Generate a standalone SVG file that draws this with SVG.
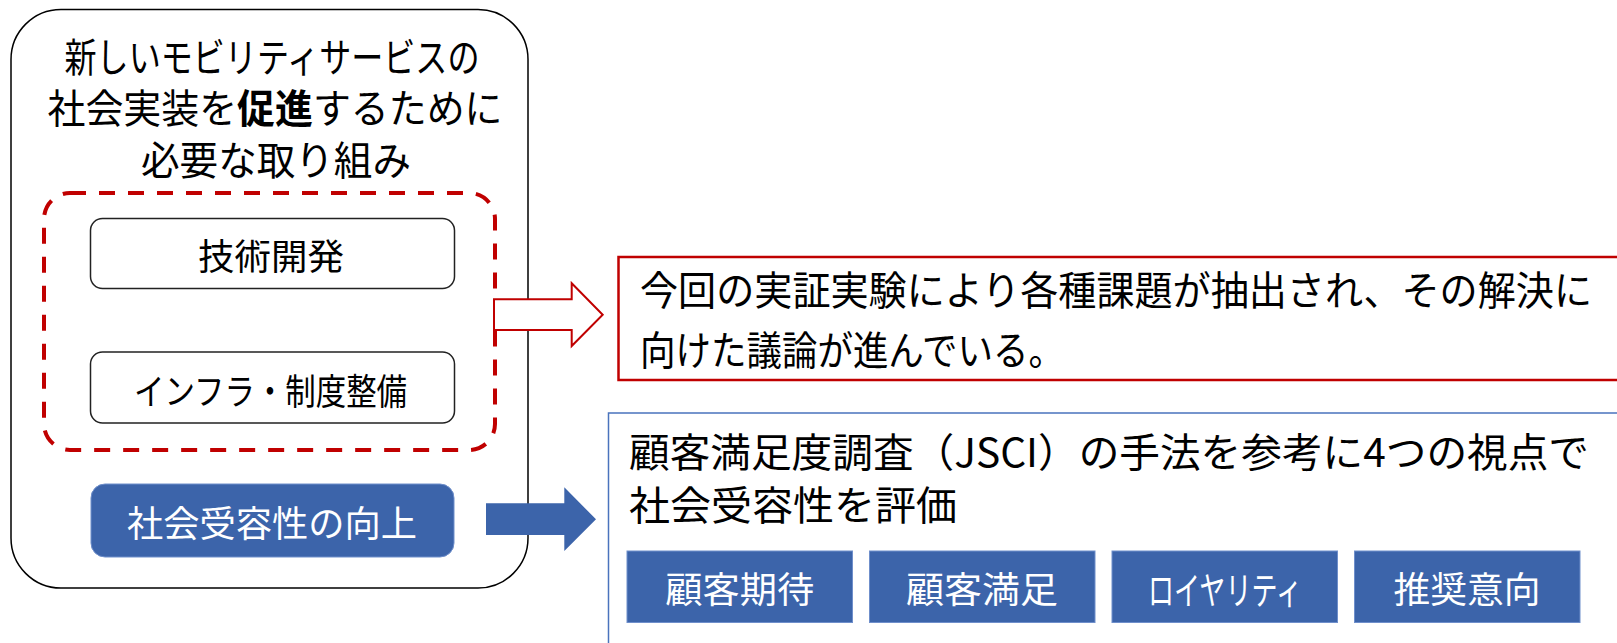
<svg xmlns="http://www.w3.org/2000/svg" width="1617" height="643" viewBox="0 0 1617 643">
<style>
text{font-family:"Noto Sans CJK JP","Noto Sans",sans-serif;dominant-baseline:central;fill:#000}
.c{text-anchor:middle}
.w{fill:#fff}
.blue{fill:#3C64AA;stroke:#6F8FCB;stroke-width:1}
.wbox{fill:#fff;stroke:#222;stroke-width:1.5}
</style>
<rect width="1617" height="643" fill="#fff"/>
<g id="outer">
<rect x="11" y="9.5" width="517" height="578.5" rx="50" fill="#fff" stroke="#000" stroke-width="1.5"/>
<text x="272" y="55" font-size="40" class="c" textLength="415" lengthAdjust="spacingAndGlyphs">新しいモビリティサービスの</text>
<text x="275" y="105.8" font-size="40" class="c" textLength="455" lengthAdjust="spacingAndGlyphs">社会実装を<tspan font-weight="bold">促進</tspan>するために</text>
<text x="276" y="157.5" font-size="40" class="c" textLength="270" lengthAdjust="spacingAndGlyphs">必要な取り組み</text>
</g>
<g id="dashed-group">
<rect x="44" y="193" width="451" height="257" rx="26" fill="none" stroke="#C00000" stroke-width="4" stroke-dasharray="16 13"/>
</g>
<g id="tech">
<rect class="wbox" x="90.5" y="218.5" width="364" height="70" rx="12"/>
<text x="271" y="253.5" font-size="36" class="c" textLength="146" lengthAdjust="spacingAndGlyphs">技術開発</text>
</g>
<g id="infra">
<rect class="wbox" x="90.5" y="352" width="364" height="71" rx="12"/>
<text x="270.5" y="388.5" font-size="36" class="c" textLength="273" lengthAdjust="spacingAndGlyphs">インフラ・制度整備</text>
</g>
<g id="acceptance">
<rect x="91" y="484" width="363" height="73" rx="14" fill="#3C64AA" stroke="#6F8FCB" stroke-width="1"/>
<text x="272" y="521" font-size="36" class="c w" textLength="290" lengthAdjust="spacingAndGlyphs">社会受容性の向上</text>
</g>
<g id="connectors">
<polygon points="494,299.3 571.7,299.3 571.7,283.3 602.7,314.7 571.7,346 571.7,330 494,330" fill="#fff" stroke="#C00000" stroke-width="2"/>
<polygon points="486,503.3 564.3,503.3 564.3,487.3 596,519.3 564.3,551 564.3,535 486,535" fill="#3C64AA"/>
</g>
<g id="result-red">
<rect x="618.5" y="257" width="1010" height="123" fill="#fff" stroke="#C00000" stroke-width="2.5"/>
<text x="640" y="287.5" font-size="40" textLength="952" lengthAdjust="spacingAndGlyphs">今回の実証実験により各種課題が抽出され、その解決に</text>
<text x="640" y="347.5" font-size="40" textLength="424" lengthAdjust="spacingAndGlyphs">向けた議論が進んでいる。</text>
</g>
<g id="result-blue">
<rect x="608.5" y="413" width="1020" height="240" fill="#fff" stroke="#4A73BD" stroke-width="1.5"/>
<text x="629" y="450" font-size="40" textLength="960" lengthAdjust="spacingAndGlyphs">顧客満足度調査（JSCI）の手法を参考に4つの視点で</text>
<text x="629" y="502.5" font-size="40" textLength="328" lengthAdjust="spacingAndGlyphs">社会受容性を評価</text>
</g>
<g id="expect">
<rect class="blue" x="627" y="551" width="225.5" height="71.5"/>
<text x="739.8" y="587" font-size="36" class="c w" textLength="149" lengthAdjust="spacingAndGlyphs">顧客期待</text>
</g>
<g id="satisfaction">
<rect class="blue" x="869.5" y="551" width="225.5" height="71.5"/>
<text x="982" y="587" font-size="36" class="c w" textLength="152" lengthAdjust="spacingAndGlyphs">顧客満足</text>
</g>
<g id="loyalty">
<rect class="blue" x="1112" y="551" width="225.5" height="71.5"/>
<text x="1225" y="587" font-size="38" class="c w" textLength="154" lengthAdjust="spacingAndGlyphs">ロイヤリティ</text>
</g>
<g id="recommend">
<rect class="blue" x="1354.5" y="551" width="225.5" height="71.5"/>
<text x="1467" y="587" font-size="36" class="c w" textLength="147" lengthAdjust="spacingAndGlyphs">推奨意向</text>
</g>
</svg>
